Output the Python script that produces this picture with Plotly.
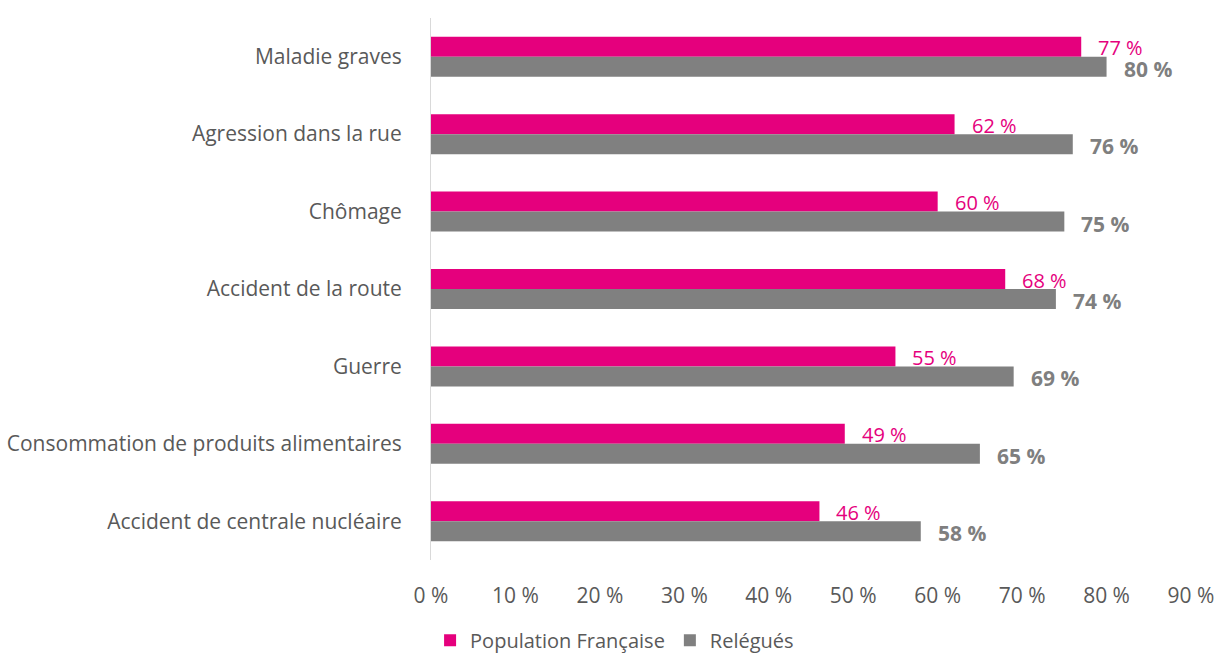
import plotly.graph_objects as go

categories = [
    "Maladie graves",
    "Agression dans la rue",
    "Chômage",
    "Accident de la route",
    "Guerre",
    "Consommation de produits alimentaires",
    "Accident de centrale nucléaire",
]
population_francaise = [77, 62, 60, 68, 55, 49, 46]
relegues = [80, 76, 75, 74, 69, 65, 58]
x_ticks = [0, 10, 20, 30, 40, 50, 60, 70, 80, 90]

PINK = "#E5007D"
GRAY = "#808080"
FONT = "Open Sans"
TEXT = "#595959"
SIZE = 21

fig = go.Figure()
fig.add_trace(go.Bar(
    y=categories, x=population_francaise, name="Population Française", orientation="h",
    marker=dict(color=PINK, line=dict(width=0)),
))
fig.add_trace(go.Bar(
    y=categories, x=relegues, name="Relégués", orientation="h",
    marker=dict(color=GRAY, line=dict(width=0)),
))

annotations = []
for cat, v in zip(categories, population_francaise):
    annotations.append(dict(
        x=v, y=cat, text=f"{v} %", showarrow=False, xanchor="left", yanchor="middle",
        xshift=15, yshift=9, font=dict(family=FONT, size=20, color=PINK),
    ))
for cat, v in zip(categories, relegues):
    annotations.append(dict(
        x=v, y=cat, text=f"<b>{v} %</b>", showarrow=False, xanchor="left", yanchor="middle",
        xshift=15, yshift=-12, font=dict(family=FONT, size=21, color="#7F7F7F"),
    ))

fig.update_layout(
    width=1217, height=660,
    margin=dict(l=431, r=26, t=18, b=100, autoexpand=False),
    paper_bgcolor="white", plot_bgcolor="white",
    barmode="group", bargap=0.483, bargroupgap=0,
    font=dict(family=FONT, size=SIZE, color=TEXT),
    showlegend=True,
    legend=dict(orientation="h", x=0.505, xref="container", xanchor="center",
                y=0.03, yref="container", yanchor="middle",
                font=dict(family=FONT, size=20, color=TEXT),
                itemwidth=30, tracegroupgap=0),
    annotations=annotations,
    xaxis=dict(range=[0, 90], tickvals=x_ticks, ticktext=[f"{t} %" for t in x_ticks],
               showgrid=False, zeroline=False, showline=False, ticks="",
               ticklabelstandoff=21, tickfont=dict(family=FONT, size=SIZE, color=TEXT)),
    yaxis=dict(autorange="reversed", showgrid=False, zeroline=False,
               showline=True, linecolor="#D9D9D9", linewidth=1, ticks="",
               ticklabelstandoff=24, tickfont=dict(family=FONT, size=SIZE, color=TEXT)),
)

fig.write_html("out.html")
